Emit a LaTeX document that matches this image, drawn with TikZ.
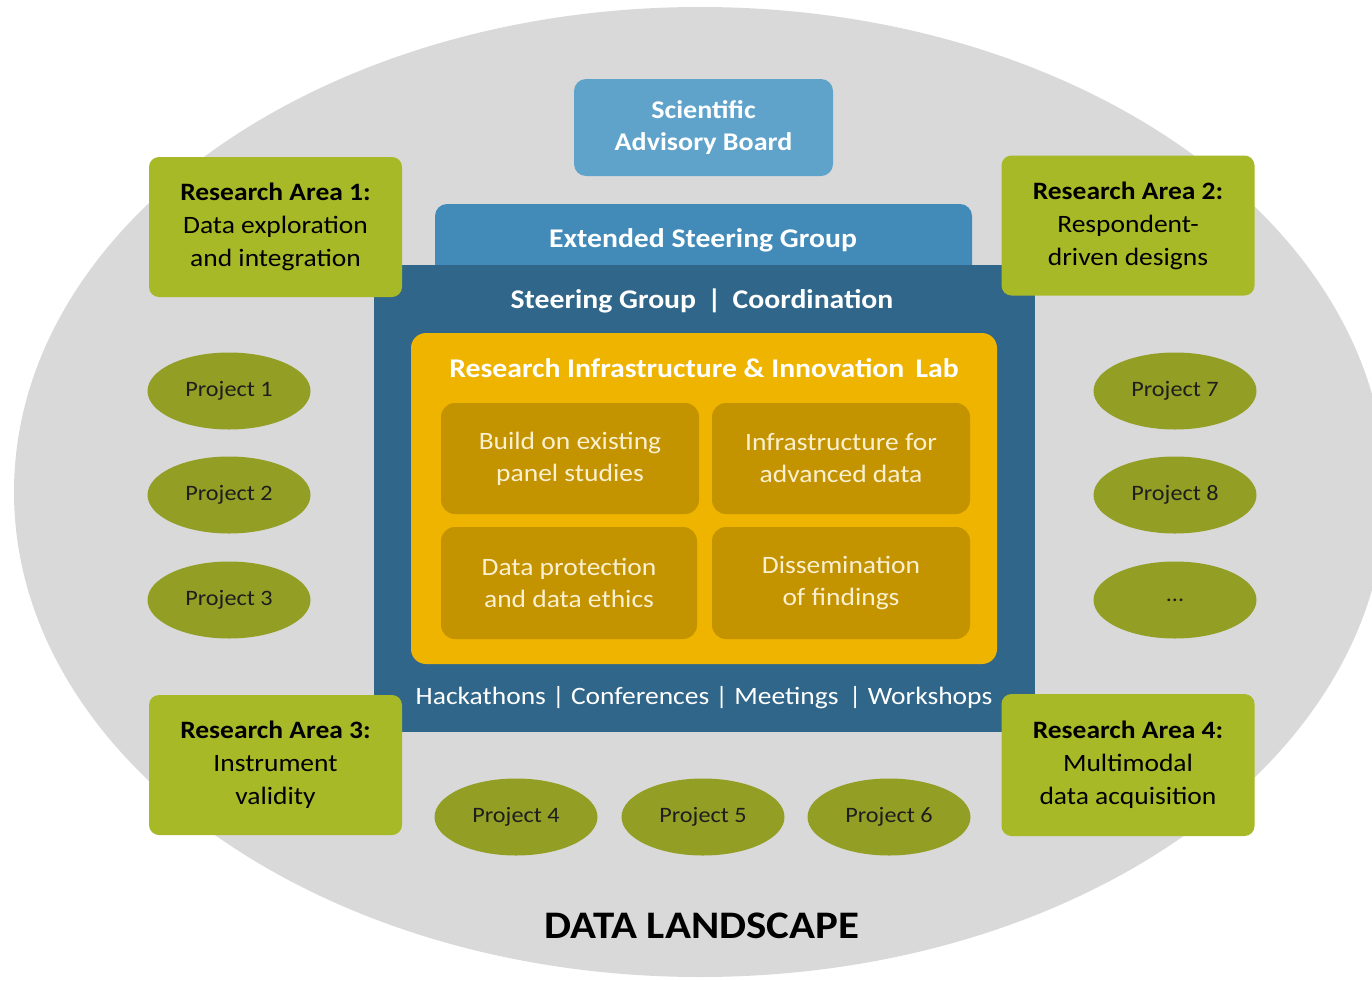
\documentclass[tikz,border=0pt]{standalone}
\usepackage{fontspec}
\setmainfont{Carlito}[FakeStretch=1.1]
\usetikzlibrary{shapes.geometric}
\definecolor{landgray}{HTML}{D9D9D9}
\definecolor{sabblue}{HTML}{5FA3CB}
\definecolor{esgblue}{HTML}{428BB9}
\definecolor{sgdark}{HTML}{30668A}
\definecolor{labyellow}{HTML}{EFB400}
\definecolor{innergold}{HTML}{C49300}
\definecolor{ragreen}{HTML}{A8B927}
\definecolor{projgreen}{HTML}{939E24}
\definecolor{creamtext}{HTML}{FBF0D0}
\definecolor{darktext}{HTML}{1E1E1E}
\tikzset{
  rabox/.style={fill=ragreen, rounded corners=10, minimum width=253, minimum height=140,
    align=center, inner sep=0, text=black, font=\fontsize{25}{33}\selectfont},
  projell/.style={ellipse, fill=projgreen, minimum width=163, minimum height=77, inner sep=0,
    text=darktext, font=\fontsize{22}{26}\selectfont},
  labbox/.style={fill=innergold, rounded corners=14, minimum width=258, minimum height=111,
    align=center, inner sep=0, text=creamtext, font=\fontsize{25}{32}\selectfont},
  whitebold/.style={text=white, font=\bfseries\fontsize{27}{32}\selectfont, align=center, inner sep=0},
}
\begin{document}
\begin{tikzpicture}[x=1pt,y=-1pt]
\useasboundingbox (0,0) rectangle (1372,980);
\clip (0,0) rectangle (1372,980);
\fill[landgray] (700,492) ellipse [x radius=686, y radius=485];

% Scientific Advisory Board
\node[fill=sabblue, rounded corners=12, minimum width=259, minimum height=97, inner sep=0,
  text=white, font=\bfseries\fontsize{25.5}{32}\selectfont, align=center] (sab) at (703.5,127.5)
  {Scientific\\Advisory Board};

% Extended Steering Group
\node[fill=esgblue, rounded corners=12, minimum width=537, minimum height=80, inner sep=0] (esg) at (703.5,244) {};
\node[whitebold] (esgtext) at (703,240) {Extended Steering Group};

% Steering Group
\node[fill=sgdark, minimum width=661, minimum height=467, inner sep=0] (sg) at (704.5,498.5) {};
\node[whitebold] (sgtext) at (702,301) {Steering Group \,|\, Coordination};
\node[text=white, font=\fontsize{25}{32}\selectfont, inner sep=0] (events) at (704,698)
  {Hackathons | Conferences | Meetings \,| Workshops};

% Lab
\node[fill=labyellow, rounded corners=15, minimum width=586, minimum height=331, inner sep=0] (lab) at (704,498.5) {};
\node[whitebold] (labtext) at (704,368) {Research Infrastructure \& Innovation \,Lab};
\node[labbox] (l1) at (570,458.5) {Build on existing\\panel studies};
\node[labbox] (l2) at (841,458.5) {Infrastructure for\\advanced data};
\node[labbox, minimum width=256, minimum height=112] (l3) at (569,583) {Data protection\\and data ethics};
\node[labbox, minimum height=112] (l4) at (841,583) {Dissemination\\of findings};

% Research areas
\node[rabox] (ra1) at (275.5,227) {\textbf{Research Area 1:}\\Data exploration\\and integration};
\node[rabox] (ra2) at (1128,225.5) {\textbf{Research Area 2:}\\Respondent-\\driven designs};
\node[rabox] (ra3) at (275.5,765) {\textbf{Research Area 3:}\\Instrument\\validity};
\node[rabox, minimum height=142] (ra4) at (1128,765) {\textbf{Research Area 4:}\\Multimodal\\data acquisition};

% Projects
\node[projell] (p1) at (229,391) {Project 1};
\node[projell] (p2) at (229,495) {Project 2};
\node[projell] (p3) at (229,600) {Project 3};
\node[projell] (p7) at (1175,391) {Project 7};
\node[projell] (p8) at (1175,495) {Project 8};
\node[projell] (pdots) at (1175,600) {...};
\node[projell] (p4) at (516,817) {Project 4};
\node[projell] (p5) at (703,817) {Project 5};
\node[projell] (p6) at (889,817) {Project 6};

% Data landscape
\node[text=black, font=\bfseries\fontsize{39}{44}\selectfont, inner sep=0] (dl) at (702,926) {DATA LANDSCAPE};
\end{tikzpicture}
\end{document}
